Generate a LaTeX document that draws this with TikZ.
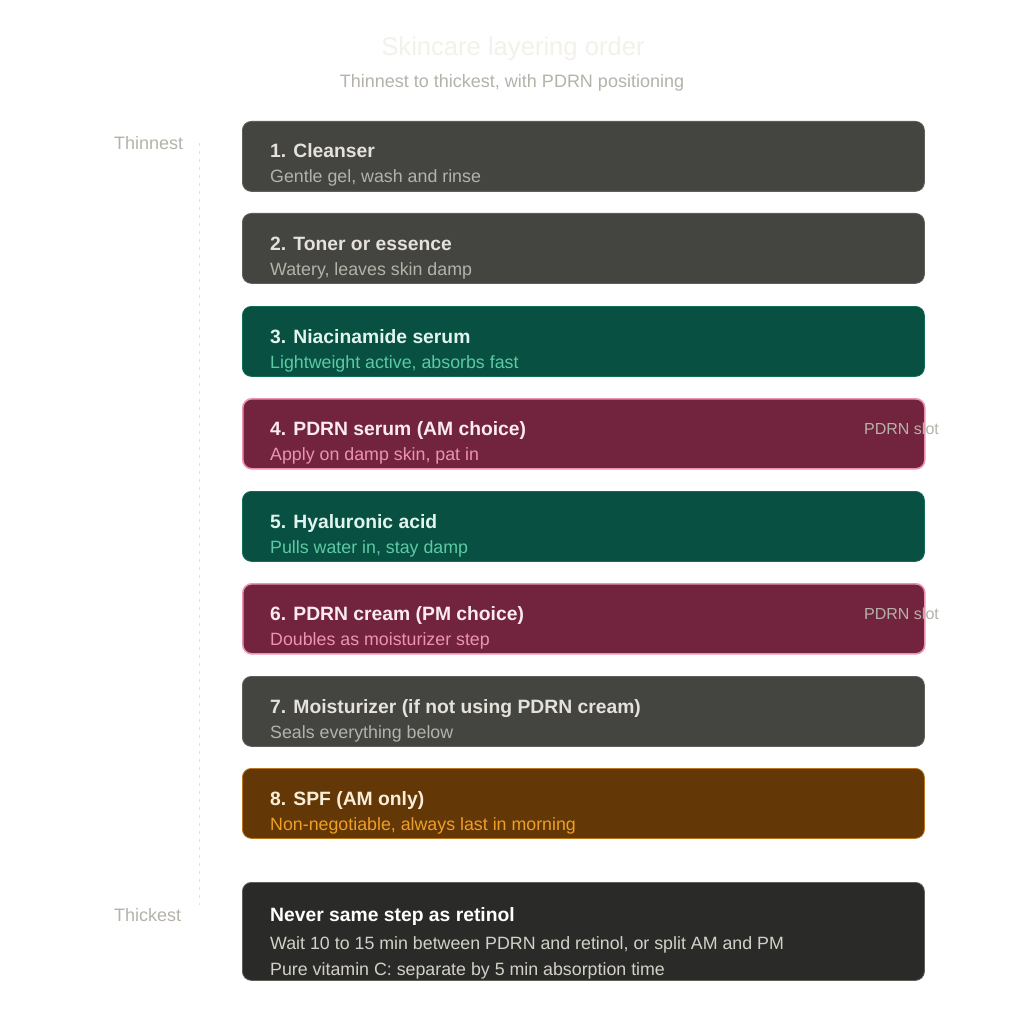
\documentclass[tikz,border=0pt]{standalone}
\usepackage{fontspec}
\setmainfont{Liberation Sans}
\definecolor{grayfill}{HTML}{444441}
\definecolor{graystroke}{HTML}{5F5E5A}
\definecolor{graytitle}{HTML}{E4E2DA}
\definecolor{graysub}{HTML}{B4B2A9}
\definecolor{tealfill}{HTML}{085041}
\definecolor{tealstroke}{HTML}{0F6E56}
\definecolor{tealtitle}{HTML}{E1F5EE}
\definecolor{tealsub}{HTML}{5DCAA5}
\definecolor{pinkfill}{HTML}{72243E}
\definecolor{pinkstroke}{HTML}{ED93B1}
\definecolor{pinktitle}{HTML}{FBEAF0}
\definecolor{pinksub}{HTML}{ED93B1}
\definecolor{amberfill}{HTML}{633806}
\definecolor{amberstroke}{HTML}{BA7517}
\definecolor{ambertitle}{HTML}{FAEEDA}
\definecolor{ambersub}{HTML}{EF9F27}
\definecolor{darkfill}{HTML}{2A2A28}
\definecolor{darkstroke}{HTML}{5F5E5A}
\definecolor{darksub}{HTML}{D3D1C7}
\definecolor{headcol}{HTML}{F3F1EA}
\definecolor{mutedcol}{HTML}{B4B2A9}
\definecolor{dashcol}{HTML}{E2E0DA}
\tikzset{
  stepcard/.style={rectangle, rounded corners=9pt, minimum width=682pt, minimum height=70pt, anchor=north west, inner sep=0pt, line width=0.8pt},
  pinkcard/.style={line width=1.6pt},
  cardtitle/.style={anchor=base west, inner sep=0pt, font=\fontsize{19.3}{23}\selectfont\bfseries},
  cardsub/.style={anchor=base west, inner sep=0pt, font=\fontsize{17.8}{21}\selectfont},
  sidelabel/.style={anchor=base west, inner sep=0pt, font=\fontsize{18}{21}\selectfont, text=mutedcol},
  slotlabel/.style={anchor=base west, inner sep=0pt, font=\fontsize{16}{19}\selectfont, text=mutedcol},
}
\newcommand\mkstep[9]{%
  \node[stepcard, fill=#3, draw=#4, #9] (#1) at (242,#2) {};
  \node[cardtitle, text=#5] (#1t) at (270,#2+37) {#7};
  \node[cardsub, text=#6] (#1s) at (270,#2+62) {#8};
}
\begin{document}
\begin{tikzpicture}[x=1pt,y=-1pt]
\useasboundingbox (0,0) rectangle (1024,1024);
\fill[white] (0,0) rectangle (1024,1024);
\node[anchor=base, inner sep=0pt, font=\fontsize{25.6}{30}\selectfont, text=headcol] (title) at (513,56) {Skincare layering order};
\node[anchor=base, inner sep=0pt, font=\fontsize{18}{21}\selectfont, text=mutedcol] (subtitle) at (512,88) {Thinnest to thickest, with PDRN positioning};
\coordinate (ltop) at (199,143);
\coordinate (lbot) at (199,905);
\draw[dashcol, line width=1pt, dash pattern=on 3pt off 5pt] (ltop) -- (lbot);
\node[sidelabel] (thin) at (114,150) {Thinnest};
\node[sidelabel] (thick) at (114,921) {Thickest};
\mkstep{s1}{121}{grayfill}{graystroke}{graytitle}{graysub}{1. Cleanser}{Gentle gel, wash and rinse}{}
\mkstep{s2}{213}{grayfill}{graystroke}{graytitle}{graysub}{2. Toner or essence}{Watery, leaves skin damp}{}
\mkstep{s3}{306}{tealfill}{tealstroke}{tealtitle}{tealsub}{3. Niacinamide serum}{Lightweight active, absorbs fast}{}
\mkstep{s4}{398}{pinkfill}{pinkstroke}{pinktitle}{pinksub}{4. PDRN serum (AM choice)}{Apply on damp skin, pat in}{pinkcard}
\mkstep{s5}{491}{tealfill}{tealstroke}{tealtitle}{tealsub}{5. Hyaluronic acid}{Pulls water in, stay damp}{}
\mkstep{s6}{583}{pinkfill}{pinkstroke}{pinktitle}{pinksub}{6. PDRN cream (PM choice)}{Doubles as moisturizer step}{pinkcard}
\mkstep{s7}{676}{grayfill}{graystroke}{graytitle}{graysub}{7. Moisturizer (if not using PDRN cream)}{Seals everything below}{}
\mkstep{s8}{768}{amberfill}{amberstroke}{ambertitle}{ambersub}{8. SPF (AM only)}{Non-negotiable, always last in morning}{}
\node[stepcard, minimum height=98pt, fill=darkfill, draw=darkstroke] (note) at (242,882) {};
\node[cardtitle, text=white] (notet) at (270,921) {Never same step as retinol};
\node[cardsub, text=darksub] (notes1) at (270,949) {Wait 10 to 15 min between PDRN and retinol, or split AM and PM};
\node[cardsub, text=darksub] (notes2) at (270,975) {Pure vitamin C: separate by 5 min absorption time};
\node[slotlabel] (slot1) at (864,434) {PDRN slot};
\node[slotlabel] (slot2) at (864,619) {PDRN slot};
\end{tikzpicture}
\end{document}
